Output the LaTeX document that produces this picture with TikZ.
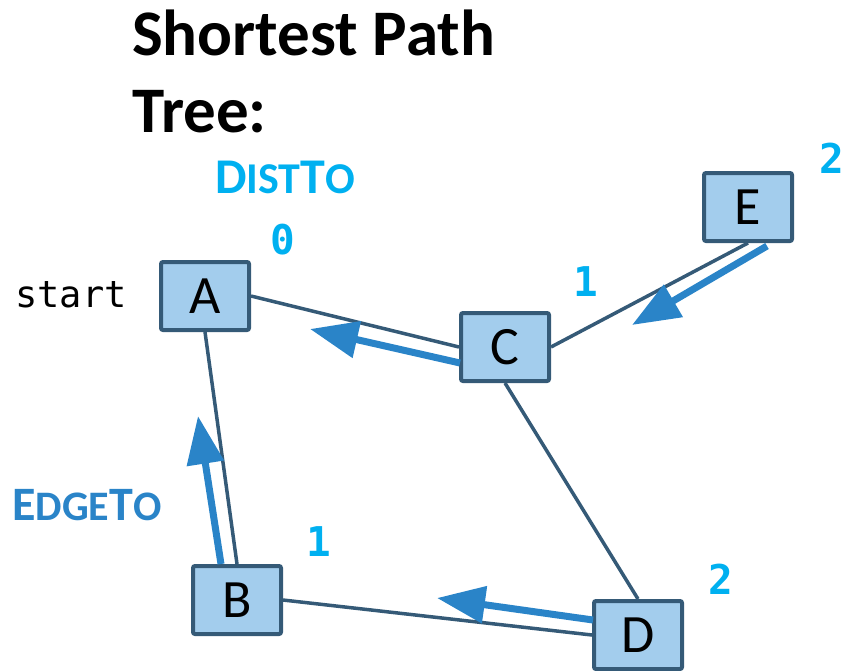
\documentclass[tikz,border=0pt]{standalone}
\usepackage{fontspec}
\setmainfont{Carlito}
\newfontfamily\monofont{DejaVu Sans Mono}
\usetikzlibrary{arrows.meta,calc}

\definecolor{boxfill}{HTML}{A3CDED}
\definecolor{slate}{HTML}{355A77}
\definecolor{treeblue}{HTML}{2A84C8}
\definecolor{distcyan}{HTML}{00B0F0}

\tikzset{
  vertex/.style={draw=slate, fill=boxfill, line width=4pt, rounded corners=2pt,
    minimum width=88pt, minimum height=68pt, inner sep=0pt,
    font=\fontsize{54}{54}\selectfont},
  graphedge/.style={draw=slate, line width=3.5pt},
  treeedge/.style={draw=treeblue, line width=7pt,
    -{Triangle[length=48pt,width=36pt]}},
  distlabel/.style={text=distcyan, inner sep=0pt,
    font=\monofont\bfseries\fontsize{41}{41}\selectfont},
}

\begin{document}
\begin{tikzpicture}[x=1pt,y=-1pt]
  \useasboundingbox (0,0) rectangle (843,670);

  % heading (base anchor sits on the last line)
  \node[anchor=base west, inner sep=0pt, align=left,
        font=\bfseries\fontsize{65}{77}\selectfont] (title) at (132,132)
        {Shortest Path\\Tree:};

  % vertices
  \node[vertex] (A) at (205,296) {A};
  \node[vertex] (C) at (505,347) {C};
  \node[vertex] (E) at (748,207) {E};
  \node[vertex] (B) at (237,600) {B};
  \node[vertex] (D) at (638,635) {D};

  % graph edges
  \draw[graphedge] (A.east) -- (C.west);
  \draw[graphedge] (A.south) -- (B.north);
  \draw[graphedge] (B.east) -- (D.west);
  \draw[graphedge] (C.south) -- (D.north);
  \draw[graphedge] (C.east) -- (E.south);

  % edgeTo pointers
  \coordinate (tipEC) at (632,325);
  \coordinate (tipCA) at (310,329);
  \coordinate (tipBA) at (198,416);
  \coordinate (tipDB) at (437,598);
  \draw[treeedge] ($(E.south)+(19,3)$) -- (tipEC);
  \draw[treeedge] ($(C.west)+(1,16)$) -- (tipCA);
  \draw[treeedge] ($(B.north)+(-16,0)$) -- (tipBA);
  \draw[treeedge] ($(D.west)+(1,-15)$) -- (tipDB);

  % labels
  \node[anchor=base west, inner sep=0pt,
        font=\monofont\fontsize{37}{37}\selectfont] (start) at (15,307) {start};
  \node[anchor=base west, inner sep=0pt, text=distcyan,
        font=\bfseries\fontsize{50}{50}\selectfont] (distto) at (215,193)
        {D{\fontsize{44}{44}\selectfont IST}T{\fontsize{44}{44}\selectfont O}};
  \node[anchor=base west, inner sep=0pt, text=treeblue,
        font=\bfseries\fontsize{48}{48}\selectfont] (edgeto) at (12,520)
        {E{\fontsize{42}{42}\selectfont DGE}T{\fontsize{42}{42}\selectfont O}};

  % distTo values
  \node[distlabel] (dA) at (283,240) {0};
  \node[distlabel] (dC) at (586,282) {1};
  \node[distlabel] (dE) at (832,158) {2};
  \node[distlabel] (dB) at (319,542) {1};
  \node[distlabel] (dD) at (721,579) {2};
\end{tikzpicture}
\end{document}
